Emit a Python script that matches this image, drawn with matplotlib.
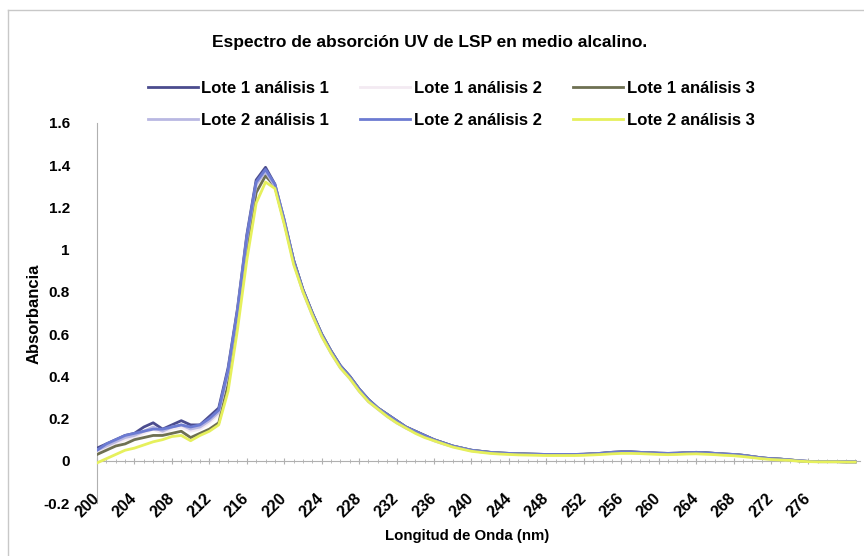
import matplotlib.pyplot as plt
from matplotlib.lines import Line2D
from matplotlib.ticker import FixedLocator, MultipleLocator

plt.rcParams['font.family'] = ['Liberation Sans', 'DejaVu Sans']

# wavelength, nm (one value per category)
wavelength = list(range(200, 282))
labelled_wavelengths = list(range(200, 277, 4))

lote1_analisis1 = [
    0.06, 0.08, 0.10, 0.12, 0.13, 0.16, 0.18, 0.15, 0.17, 0.19,
    0.17, 0.17, 0.21, 0.25, 0.44, 0.72, 1.07, 1.33, 1.39, 1.31,
    1.14, 0.95, 0.81, 0.70, 0.60, 0.52, 0.45, 0.40, 0.34, 0.29,
    0.25, 0.22, 0.19, 0.16, 0.14, 0.12, 0.10, 0.085, 0.07, 0.06,
    0.05, 0.045, 0.04, 0.037, 0.035, 0.033, 0.032, 0.031, 0.030, 0.030,
    0.030, 0.030, 0.031, 0.033, 0.036, 0.040, 0.042, 0.042, 0.040, 0.038,
    0.036, 0.035, 0.036, 0.038, 0.040, 0.038, 0.035, 0.032, 0.030, 0.026,
    0.020, 0.014, 0.010, 0.008, 0.004, 0.000, -0.003, -0.004, -0.004, -0.004,
    -0.005, -0.005]
lote1_analisis2 = [
    0.04, 0.06, 0.08, 0.10, 0.11, 0.13, 0.15, 0.13, 0.15, 0.16,
    0.14, 0.15, 0.18, 0.22, 0.40, 0.69, 1.03, 1.30, 1.37, 1.30,
    1.13, 0.94, 0.80, 0.69, 0.59, 0.51, 0.44, 0.39, 0.33, 0.28,
    0.245, 0.21, 0.18, 0.155, 0.135, 0.115, 0.095, 0.08, 0.068, 0.058,
    0.048, 0.042, 0.038, 0.035, 0.033, 0.031, 0.030, 0.029, 0.028, 0.028,
    0.028, 0.028, 0.029, 0.031, 0.034, 0.037, 0.039, 0.039, 0.038, 0.036,
    0.034, 0.033, 0.034, 0.036, 0.037, 0.035, 0.033, 0.030, 0.028, 0.024,
    0.018, 0.012, 0.008, 0.006, 0.003, 0.000, -0.003, -0.004, -0.004, -0.004,
    -0.005, -0.005]
lote1_analisis3 = [
    0.03, 0.05, 0.07, 0.08, 0.10, 0.11, 0.12, 0.12, 0.13, 0.14,
    0.11, 0.13, 0.15, 0.18, 0.36, 0.66, 1.00, 1.27, 1.35, 1.30,
    1.13, 0.95, 0.81, 0.70, 0.60, 0.52, 0.45, 0.40, 0.34, 0.29,
    0.25, 0.22, 0.19, 0.16, 0.14, 0.12, 0.10, 0.085, 0.07, 0.06,
    0.05, 0.045, 0.04, 0.037, 0.035, 0.033, 0.032, 0.031, 0.030, 0.030,
    0.030, 0.030, 0.031, 0.033, 0.036, 0.040, 0.042, 0.042, 0.040, 0.038,
    0.036, 0.035, 0.036, 0.038, 0.040, 0.038, 0.035, 0.032, 0.030, 0.026,
    0.020, 0.014, 0.010, 0.008, 0.004, 0.000, -0.003, -0.004, -0.004, -0.004,
    -0.005, -0.005]
lote2_analisis1 = [
    0.05, 0.07, 0.09, 0.11, 0.12, 0.14, 0.16, 0.14, 0.16, 0.17,
    0.15, 0.16, 0.19, 0.23, 0.42, 0.70, 1.05, 1.31, 1.37, 1.30,
    1.13, 0.94, 0.80, 0.69, 0.59, 0.51, 0.44, 0.39, 0.33, 0.28,
    0.245, 0.21, 0.18, 0.155, 0.135, 0.115, 0.095, 0.08, 0.068, 0.058,
    0.048, 0.042, 0.038, 0.035, 0.033, 0.031, 0.030, 0.029, 0.028, 0.028,
    0.028, 0.028, 0.029, 0.031, 0.034, 0.037, 0.039, 0.039, 0.038, 0.036,
    0.034, 0.033, 0.034, 0.036, 0.037, 0.035, 0.033, 0.030, 0.028, 0.024,
    0.018, 0.012, 0.008, 0.006, 0.003, 0.000, -0.003, -0.004, -0.004, -0.004,
    -0.005, -0.005]
lote2_analisis2 = [
    0.05, 0.08, 0.10, 0.12, 0.13, 0.14, 0.15, 0.15, 0.16, 0.17,
    0.16, 0.17, 0.20, 0.24, 0.43, 0.71, 1.06, 1.32, 1.38, 1.31,
    1.14, 0.95, 0.81, 0.70, 0.60, 0.52, 0.45, 0.40, 0.34, 0.29,
    0.25, 0.22, 0.19, 0.16, 0.14, 0.12, 0.10, 0.085, 0.07, 0.06,
    0.05, 0.045, 0.04, 0.037, 0.035, 0.033, 0.032, 0.031, 0.030, 0.030,
    0.030, 0.030, 0.031, 0.033, 0.036, 0.040, 0.042, 0.042, 0.040, 0.038,
    0.036, 0.035, 0.036, 0.038, 0.040, 0.038, 0.035, 0.032, 0.030, 0.026,
    0.020, 0.014, 0.010, 0.008, 0.004, 0.000, -0.003, -0.004, -0.004, -0.004,
    -0.005, -0.005]
lote2_analisis3 = [
    -0.01, 0.01, 0.03, 0.05, 0.06, 0.075, 0.09, 0.10, 0.115, 0.12,
    0.095, 0.12, 0.14, 0.17, 0.33, 0.62, 0.95, 1.22, 1.32, 1.29,
    1.12, 0.93, 0.80, 0.69, 0.59, 0.51, 0.44, 0.39, 0.33, 0.28,
    0.245, 0.21, 0.18, 0.155, 0.13, 0.11, 0.095, 0.08, 0.065, 0.055,
    0.045, 0.040, 0.035, 0.032, 0.030, 0.028, 0.027, 0.026, 0.025, 0.025,
    0.025, 0.025, 0.026, 0.028, 0.030, 0.033, 0.035, 0.035, 0.034, 0.032,
    0.030, 0.029, 0.030, 0.032, 0.033, 0.031, 0.029, 0.026, 0.024, 0.020,
    0.015, 0.010, 0.006, 0.004, 0.002, -0.002, -0.004, -0.005, -0.005, -0.005,
    -0.006, -0.006]

series = [
    ('Lote 1 análisis 1', lote1_analisis1, '#4b4c8e'),
    ('Lote 1 análisis 2', lote1_analisis2, '#f3eaf2'),
    ('Lote 1 análisis 3', lote1_analisis3, '#6e7052'),
    ('Lote 2 análisis 1', lote2_analisis1, '#b9b8e2'),
    ('Lote 2 análisis 2', lote2_analisis2, '#6c7bd2'),
    ('Lote 2 análisis 3', lote2_analisis3, '#e6f05c'),
]

fig = plt.figure(figsize=(8.64, 5.56), dpi=100)
ax = fig.add_axes([0.1123, 0.0953, 0.8830, 0.6835])

handles = {}
for name, vals, color in series:
    line, = ax.plot(wavelength, vals, color=color, lw=2.0, solid_joinstyle='round')
    handles[name] = line

ax.set_xlim(200, 281.5)
ax.set_ylim(-0.2, 1.6)
ax.set_yticks([-0.2, 0, 0.2, 0.4, 0.6, 0.8, 1.0, 1.2, 1.4, 1.6])
ax.set_yticklabels(['-0.2', '0', '0.2', '0.4', '0.6', '0.8', '1', '1.2', '1.4', '1.6'])

ax.xaxis.set_major_locator(FixedLocator(labelled_wavelengths))
ax.xaxis.set_minor_locator(MultipleLocator(1))

for s in ['top', 'right']:
    ax.spines[s].set_visible(False)
ax.spines['left'].set_color('#b0b0b0')
ax.spines['bottom'].set_position(('data', 0))
ax.spines['bottom'].set_color('#b0b0b0')
ax.spines['left'].set_zorder(0)
ax.spines['bottom'].set_zorder(0)

ax.tick_params(axis='y', length=0, pad=19.5, labelsize=11)
ax.tick_params(axis='x', which='major', direction='inout', length=4, color='#b0b0b0',
               pad=23, labelsize=11.5)
ax.tick_params(axis='x', which='minor', direction='inout', length=3, color='#b0b0b0')
for lab in ax.get_yticklabels():
    lab.set_fontweight('bold')
for lab in ax.get_xticklabels():
    lab.set_fontweight('bold')
    lab.set_rotation(45)
    lab.set_ha('right')
    lab.set_va('center')
    lab.set_rotation_mode('anchor')

fig.text(0.497, 0.924, 'Espectro de absorción UV de LSP en medio alcalino.',
         ha='center', va='center', fontsize=12.5, fontweight='bold')
fig.text(0.040, 0.435, 'Absorbancia', rotation=90, ha='center', va='center',
         fontsize=12, fontweight='bold')
fig.text(0.541, 0.036, 'Longitud de Onda (nm)', ha='center', va='center',
         fontsize=10.8, fontweight='bold')

order = ['Lote 1 análisis 1', 'Lote 2 análisis 1', 'Lote 1 análisis 2',
         'Lote 2 análisis 2', 'Lote 1 análisis 3', 'Lote 2 análisis 3']
fig.legend([handles[k] for k in order], order, ncol=3, loc='center',
           bbox_to_anchor=(0.522, 0.812), frameon=False,
           prop={'weight': 'bold', 'size': 12}, handlelength=3.0,
           handletextpad=0.2, columnspacing=1.9, labelspacing=1.0)

# chart border
fig.add_artist(Line2D([8 / 864, 1.0], [1 - 10 / 556, 1 - 10 / 556], color='#c8c8c8', lw=1))
fig.add_artist(Line2D([8 / 864, 8 / 864], [0.0, 1 - 10 / 556], color='#c8c8c8', lw=1))

plt.savefig('out.png', dpi=100)
